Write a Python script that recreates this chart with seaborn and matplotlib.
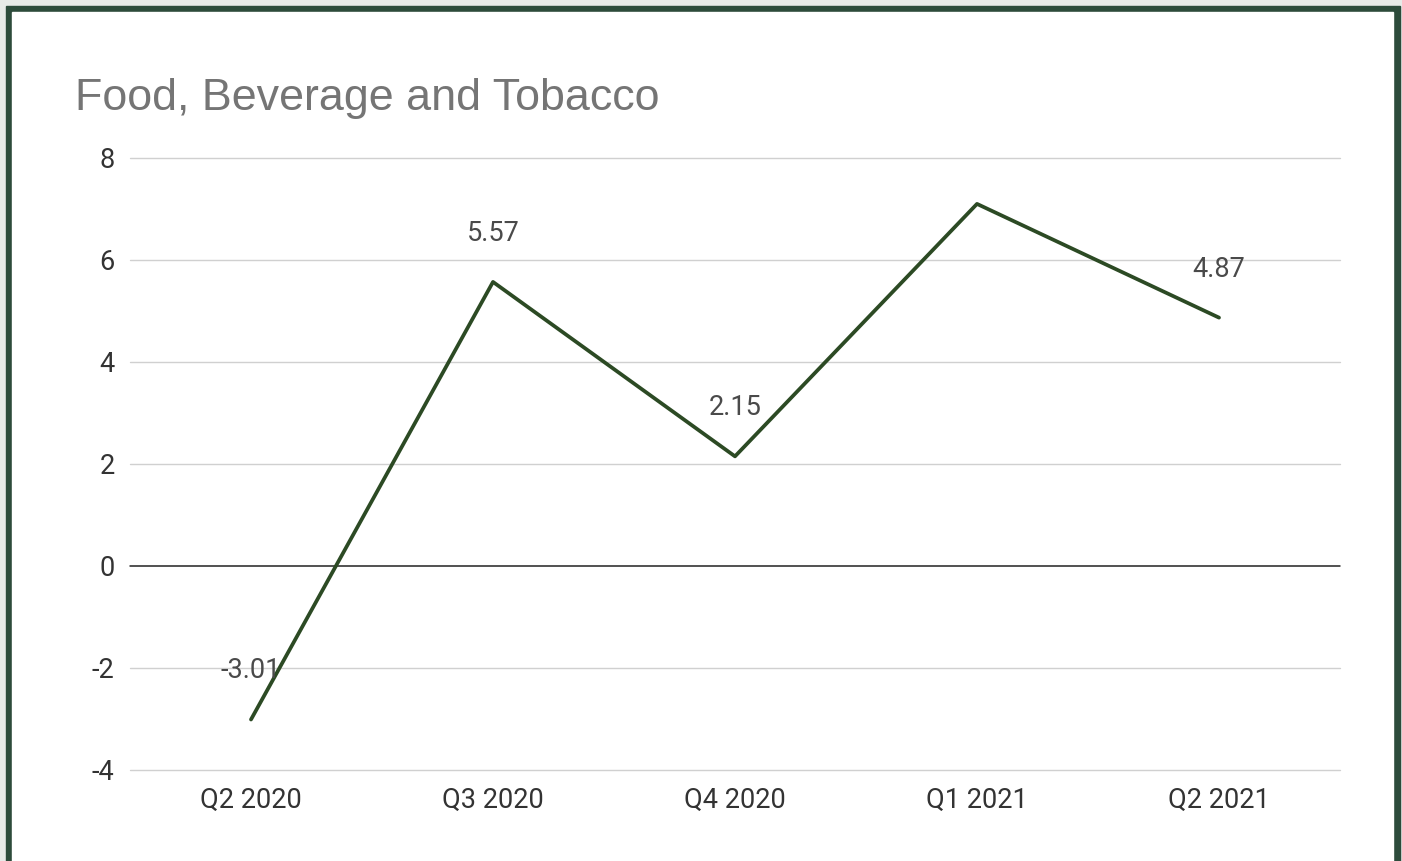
import matplotlib
matplotlib.use("Agg")
import matplotlib.pyplot as plt
import seaborn as sns
import pandas as pd
from matplotlib.patches import Rectangle

# data
quarters = ["Q2 2020", "Q3 2020", "Q4 2020", "Q1 2021", "Q2 2021"]
values = [-3.01, 5.57, 2.15, 7.1, 4.87]
labels = ["-3.01", "5.57", "2.15", "", "4.87"]
yticks = [-4, -2, 0, 2, 4, 6, 8]

df = pd.DataFrame({"Quarter": quarters, "Value": values})

sns.set_theme(style="white")
plt.rcParams["font.family"] = ["Roboto", "DejaVu Sans"]

W, H = 1402, 861
fig = plt.figure(figsize=(W / 100, H / 100), dpi=100)
fig.patch.set_facecolor("#e8eae8")
# dark green frame with white card inside
fig.patches.append(Rectangle((6 / W, -0.02), 1394 / W, (H - 6) / H + 0.02,
                             transform=fig.transFigure, color="#2d4b3b", zorder=-10))
fig.patches.append(Rectangle((12 / W, -0.02), 1381 / W, (H - 12) / H + 0.02,
                             transform=fig.transFigure, color="white", zorder=-9))

ax = fig.add_axes([130 / W, (H - 770) / H, 1210 / W, 612 / H])
ax.set_facecolor("none")

sns.lineplot(data=df, x="Quarter", y="Value", ax=ax, color="#2c4a24",
             linewidth=2.7, sort=False)

ax.set_xlim(-0.5, 4.5)
ax.set_ylim(-4, 8)
ax.set_yticks(yticks)
ax.set_yticklabels([str(t) for t in yticks])
for t in yticks:
    if t == 0:
        ax.axhline(t, color="#222222", linewidth=1.1, zorder=1, clip_on=False)
    else:
        ax.axhline(t, color="#d0d0d0", linewidth=1.0, zorder=0, clip_on=False)

for i, (v, lab) in enumerate(zip(values, labels)):
    if lab:
        ax.annotate(lab, (i, v), xytext=(0, 35), textcoords="offset points",
                    ha="center", va="center", fontsize=19.5, color="#4a4a4a")

for s in ax.spines.values():
    s.set_visible(False)
ax.tick_params(axis="both", length=0, labelsize=19.5, colors="#333333")
ax.tick_params(axis="y", pad=11)
ax.tick_params(axis="x", pad=12)
ax.set_xlabel("")
ax.set_ylabel("")

fig.text(75 / W, (H - 110) / H, "Food, Beverage and Tobacco",
         fontsize=32.3, color="#757575", family=["Liberation Sans", "DejaVu Sans"],
         ha="left", va="baseline")

fig.savefig("out.png", dpi=100, facecolor=fig.get_facecolor())
